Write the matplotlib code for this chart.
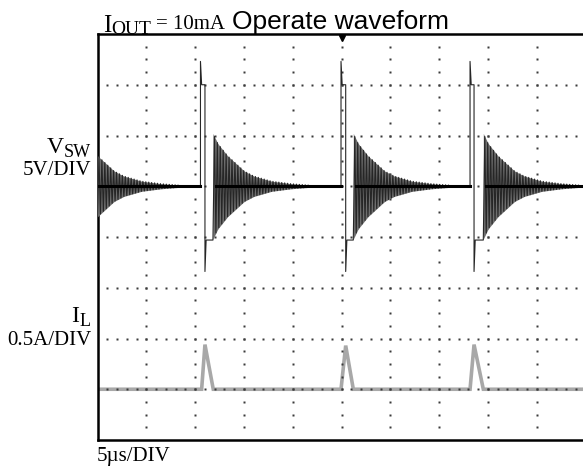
import numpy as np
import matplotlib
matplotlib.use("Agg")
import matplotlib.pyplot as plt

# ---------------- data ----------------
# time in microseconds (5 us/div, 10 div), V_SW in volts (5 V/div), I_L in amps (0.5 A/div)
pulse_rise_us = [10.55, 24.95, 38.17]
pulse_fall_us = [11.01, 25.43, 38.58]
ring_start_us = [-1.5, 11.83, 26.21, 39.53]   # first one is the tail of an off-screen pulse

v_out = 5.0
v_high = 15.0
v_spike_top = 17.3
v_spike_bot = -3.4
v_low = -0.3

ring_env_dt_us = [0.0, 0.5, 1.5, 3.2, 4.2, 6.0, 8.0, 10.0]
ring_env_amp_v = [5.2, 4.2, 3.0, 1.5, 1.0, 0.5, 0.25, 0.1]
ring_period_us = 0.30

il_rise_us = [10.67, 24.95, 38.17]
il_peak_us = [11.01, 25.43, 38.58]
il_end_us = [11.86, 26.21, 39.53]
il_peak_a = [0.44, 0.43, 0.44]

x_label = "5\u00b5s/DIV"

# ---------------- build traces ----------------
T_END = 52.0
vt, vv = [], []
ct, cv = [], []          # settled centre line
envs = []                # (t, lower, upper) per ring


def add_ring(t0, t_stop):
    half = ring_period_us / 2
    t_ring_end = min(t_stop, t0 + ring_env_dt_us[-1])
    n = int((t_ring_end - t0) / half)
    et, lo, up = [], [], []
    for k in range(n + 1):
        tk = t0 + k * half
        a = np.interp(tk - t0, ring_env_dt_us, ring_env_amp_v)
        sgn = -1.0 if k % 2 == 0 else 1.0
        vt.append(tk)
        vv.append(v_out + sgn * a)
        et.append(tk)
        lo.append(v_out - a)
        up.append(v_out + a)
    envs.append((et, lo, up))
    vt.append(t_stop)
    vv.append(v_out)
    ct.extend([t0 + 0.3, t_stop, np.nan])
    cv.extend([v_out, v_out, np.nan])


for i in range(len(ring_start_us)):
    t_next = pulse_rise_us[i] if i < len(pulse_rise_us) else T_END
    add_ring(ring_start_us[i], t_next)
    if i < len(pulse_rise_us):
        r, f = pulse_rise_us[i], pulse_fall_us[i]
        vt += [r, r, r + 0.12, f, f, f + 0.12, ring_start_us[i + 1]]
        vv += [v_out, v_spike_top, v_high, v_high, v_spike_bot, v_low, v_low]

it, iv = [0.0], [0.0]
for r, p, e, pk in zip(il_rise_us, il_peak_us, il_end_us, il_peak_a):
    it += [r, p, e]
    iv += [0.0, pk, 0.0]
it.append(T_END)
iv.append(0.0)

# ---------------- figure ----------------
W_PX, H_PX = 583, 466
fig = plt.figure(figsize=(W_PX / 100, H_PX / 100), dpi=100)
fig.patch.set_facecolor("white")

left_px, right_px, top_px, bot_px = 97.5, 585.5, 34.0, 440.0
rect = [left_px / W_PX, 1 - bot_px / H_PX, (right_px - left_px) / W_PX, (bot_px - top_px) / H_PX]

ax_i = fig.add_axes(rect, zorder=0)
ax = fig.add_axes(rect, zorder=1)
ax_v = fig.add_axes(rect, zorder=2)
for a in (ax_i, ax, ax_v):
    a.set_xlim(0, 50)
    a.patch.set_visible(False)
    a.set_xticks([])
    a.set_yticks([])
    for s in a.spines.values():
        s.set_visible(False)

ax.set_ylim(0, 8)            # divisions
ax_v.set_ylim(-20, 20)       # 5 V/div, 0 V at division 4
ax_i.set_ylim(-0.5, 3.5)     # 0.5 A/div, 0 A at division 1

# frame
for s in ("left", "top", "bottom"):
    ax.spines[s].set_visible(True)
    ax.spines[s].set_linewidth(1.8)
    ax.spines[s].set_color("black")

# dotted graticule
dot_c = "#3a3a3a"
gx = np.arange(1, 50, 1.0)
for yl in range(1, 8):
    ax.plot(gx, np.full_like(gx, yl), ls="none", marker="s", ms=1.7, mec="none", mfc=dot_c)
gy = np.arange(0.25, 8, 0.25)
for xl in range(5, 50, 5):
    ax.plot(np.full_like(gy, xl), gy, ls="none", marker="s", ms=1.7, mec="none", mfc=dot_c)
# trigger marker
ax.plot([25], [7.93], marker="v", ms=5, color="black", clip_on=False)

# traces
ax_i.plot(it, iv, color="#a8a8a8", lw=2.6, solid_joinstyle="miter")
for et, lo, up in envs:
    ax_v.fill_between(et, lo, up, color="#6e6e6e", lw=0)
ax_v.plot(vt, vv, color="#262626", lw=0.8)
ax_v.plot(ct, cv, color="black", lw=2.2)

# ---------------- texts ----------------
serif = ["Liberation Serif", "DejaVu Serif"]
sans = ["Liberation Sans", "DejaVu Sans"]


def ftext(x, y, s, size, fam, ha="left"):
    fig.text(x / W_PX, 1 - y / H_PX, s, fontsize=size, family=fam, ha=ha, va="baseline")


ftext(103, 31.5, "I", 18, serif)
ftext(111, 34, "OUT", 14, serif)
ftext(156, 29, "= 10mA", 15, serif)
ftext(232, 29, "Operate waveform", 19, sans)

ftext(63.5, 153, "V", 17, serif, ha="right")
ftext(91, 157, "SW", 13, serif, ha="right")
ftext(91, 175, "5V/DIV", 15, serif, ha="right")

ftext(79, 322, "I", 17, serif, ha="right")
ftext(91, 326, "L", 13, serif, ha="right")
ftext(91, 345, "0.5A/DIV", 15, serif, ha="right")

ftext(97, 461, x_label, 15, serif)

fig.savefig("out.png", dpi=100)
